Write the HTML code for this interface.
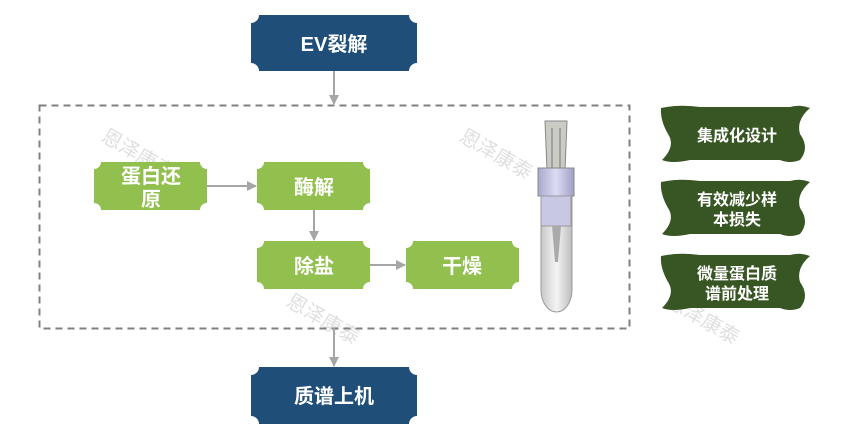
<!DOCTYPE html>
<html><head><meta charset="utf-8"><style>
html,body{margin:0;padding:0;background:#fff;}
svg{display:block;font-family:"Liberation Sans","Noto Sans CJK SC",sans-serif;}
</style></head><body>
<svg width="849" height="439" viewBox="0 0 849 439" xmlns="http://www.w3.org/2000/svg">
<defs>
<marker id="ah" markerWidth="10" markerHeight="10" refX="9" refY="5" orient="auto" markerUnits="userSpaceOnUse">
<path d="M0,0 L10,5 L0,10 Z" fill="#A6A6A6"/>
</marker>
<linearGradient id="tube" x1="0" x2="1"><stop offset="0" stop-color="#c8c8c8"/><stop offset="0.5" stop-color="#f4f4f4"/><stop offset="1" stop-color="#bdbdbd"/></linearGradient>
<linearGradient id="cap" x1="0" x2="1"><stop offset="0" stop-color="#a8a8d0"/><stop offset="0.5" stop-color="#dcdcf2"/><stop offset="1" stop-color="#a0a0c8"/></linearGradient>
</defs>
<g fill="#d8d8d8" font-size="20" opacity="0.8">
<text transform="translate(100,140) rotate(30)">恩泽康泰</text>
<text transform="translate(458,140) rotate(30)">恩泽康泰</text>
<text transform="translate(285,305) rotate(30)">恩泽康泰</text>
<text transform="translate(665,305) rotate(30)">恩泽康泰</text>
</g>
<rect x="39.5" y="105.5" width="590" height="223" fill="none" stroke="#808080" stroke-width="2" stroke-dasharray="7,5"/>
<g stroke="#A6A6A6" stroke-width="2" fill="none">
<line x1="334" y1="71" x2="334" y2="104" marker-end="url(#ah)"/>
<line x1="334" y1="328" x2="334" y2="366" marker-end="url(#ah)"/>
<line x1="207" y1="186" x2="256" y2="186" marker-end="url(#ah)"/>
<line x1="314" y1="210" x2="314" y2="240" marker-end="url(#ah)"/>
<line x1="370" y1="265" x2="405" y2="265" marker-end="url(#ah)"/>
</g>
<path d="M259,15 H409 A8 8 0 0 0 417,23 V63 A8 8 0 0 0 409,71 H259 A8 8 0 0 0 251,63 V23 A8 8 0 0 0 259,15 Z" fill="#1F4E79"/>
<text x="334" y="51" fill="#fff" font-size="20" font-weight="bold" text-anchor="middle">EV裂解</text>
<path d="M259,367 H409 A8 8 0 0 0 417,375 V416 A8 8 0 0 0 409,424 H259 A8 8 0 0 0 251,416 V375 A8 8 0 0 0 259,367 Z" fill="#1F4E79"/>
<text x="334" y="403" fill="#fff" font-size="20" font-weight="bold" text-anchor="middle">质谱上机</text>
<g fill="#92C04F">
<path d="M101,162 H200 A7 7 0 0 0 207,169 V203 A7 7 0 0 0 200,210 H101 A7 7 0 0 0 94,203 V169 A7 7 0 0 0 101,162 Z"/>
<path d="M264,162 H363 A7 7 0 0 0 370,169 V203 A7 7 0 0 0 363,210 H264 A7 7 0 0 0 257,203 V169 A7 7 0 0 0 264,162 Z"/>
<path d="M264,241 H363 A7 7 0 0 0 370,248 V282 A7 7 0 0 0 363,289 H264 A7 7 0 0 0 257,282 V248 A7 7 0 0 0 264,241 Z"/>
<path d="M413,241 H512 A7 7 0 0 0 519,248 V282 A7 7 0 0 0 512,289 H413 A7 7 0 0 0 406,282 V248 A7 7 0 0 0 413,241 Z"/>
</g>
<g fill="#fff" font-size="20" font-weight="bold" text-anchor="middle">
<text x="151" y="183">蛋白还</text>
<text x="151" y="206">原</text>
<text x="314" y="194">酶解</text>
<text x="314" y="273">除盐</text>
<text x="462" y="273">干燥</text>
</g>
<g>
<path d="M545,121 H567 L565,171 H547 Z" fill="#c9cbc4" stroke="#888" stroke-width="1"/>
<line x1="552" y1="128" x2="552" y2="168" stroke="#777"/>
<line x1="560" y1="128" x2="560" y2="168" stroke="#777"/>
<path d="M541,195 H572 V290 A15.5 22 0 0 1 541,290 Z" fill="url(#tube)" stroke="#999"/>
<rect x="538" y="168" width="36" height="28" fill="url(#cap)" stroke="#888"/>
<rect x="541" y="196" width="30" height="30" fill="#c8c8e4" stroke="#999"/>
<path d="M552,226 L561,226 L558,262 L555,262 Z" fill="#aaa"/>
</g>
<g fill="#375623">
<path d="M661,108 Q680,104 700,107 H790 Q800,104 810,108 Q796,120 800,134 Q810,148 800,160 Q790,164 780,160 H690 Q672,164 662,160 Q676,146 668,134 Q660,120 661,108 Z"/>
<path d="M661,182 Q680,178 700,181 H790 Q800,178 810,182 Q796,194 800,208 Q810,222 800,234 Q790,238 780,234 H690 Q672,238 662,234 Q676,220 668,208 Q660,194 661,182 Z"/>
<path d="M661,256 Q680,252 700,255 H790 Q800,252 810,256 Q796,268 800,282 Q810,296 800,308 Q790,312 780,308 H690 Q672,312 662,308 Q676,294 668,282 Q660,268 661,256 Z"/>
</g>
<g fill="#fff" font-size="16" font-weight="bold" text-anchor="middle">
<text x="737" y="141">集成化设计</text>
<text x="737" y="205">有效减少样</text>
<text x="737" y="225">本损失</text>
<text x="737" y="279">微量蛋白质</text>
<text x="737" y="299">谱前处理</text>
</g>
</svg>
</body></html>
